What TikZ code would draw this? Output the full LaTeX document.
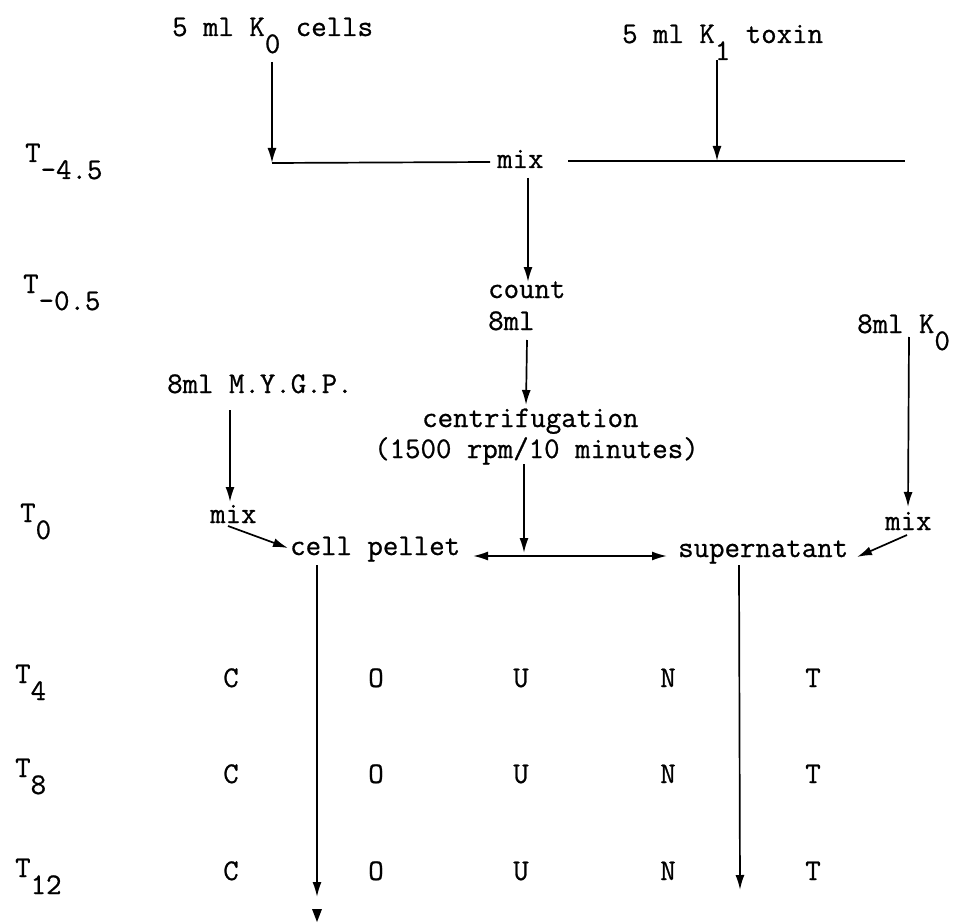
\documentclass[tikz,border=0pt]{standalone}
\usepackage{fontspec}
\newfontfamily\tw[FakeBold=0.8]{Latin Modern Mono}
\usetikzlibrary{arrows.meta}
\newcommand\lo[1]{\raisebox{-17pt}{#1}}
\begin{document}
\begin{tikzpicture}[x=1pt,y=-1pt,
  txt/.style={font=\fontsize{30}{34}\selectfont\tw, inner sep=0pt, anchor=base west},
  col/.style={txt, anchor=base},
  flow/.style={line width=1.7pt, -{Latex[length=15pt,width=9pt]}},
  twoway/.style={line width=1.7pt, {Latex[length=15pt,width=9pt]}-{Latex[length=15pt,width=9pt]}},
  plain/.style={line width=1.7pt}]
\useasboundingbox (0,0) rectangle (954,923);
% time labels
\node[txt] (tm45) at (25,162) {T\lo{-4.5}};
\node[txt] (tm05) at (23,293) {T\lo{-0.5}};
\node[txt] (t0) at (20,522) {T\lo{0}};
\node[txt] (t4) at (15,683) {T\lo{4}};
\node[txt] (t8) at (15,777) {T\lo{8}};
\node[txt] (t12) at (15,877) {T\lo{12}};
% top inputs
\node[txt] (k0) at (172,36) {5 ml K\lo{0} cells};
\node[txt] (k1) at (622,43) {5 ml K\lo{1} toxin};
\node[txt] (mixtop) at (497,168) {mix};
\node[txt] (count) at (488,298) {count};
\node[txt] (ml8) at (488,330) {8ml};
\node[txt] (mygp) at (167,393) {8ml M.Y.G.P.};
\node[txt] (k0r) at (857,333) {8ml K\lo{0}};
\node[txt] (centr) at (422,427) {centrifugation};
\node[txt] (rpm) at (374,458) {(1500 rpm/10 minutes)};
\node[txt] (mixl) at (210,523) {mix};
\node[txt] (mixr) at (885,530) {mix};
\node[txt] (pellet) at (290,555) {cell pellet};
\node[txt] (super) at (678,557) {supernatant};
% COUNT rows
\foreach \r/\y in {4/687,8/783,12/880}{
  \node[col] (c\r) at (231,\y) {C};
  \node[col] (o\r) at (376,\y) {O};
  \node[col] (u\r) at (521,\y) {U};
  \node[col] (n\r) at (668,\y) {N};
  \node[col] (tt\r) at (813,\y) {T};
}
% junction coordinates
\coordinate (a1s) at (272,62);   \coordinate (a1e) at (272,163);
\coordinate (ll) at (490,162);   \coordinate (rl1) at (568,161); \coordinate (rl2) at (905,161);
\coordinate (a2s) at (717,60);   \coordinate (a2e) at (717,161);
\coordinate (a3s) at (528,178);  \coordinate (a3e) at (528,282);
\coordinate (a4s) at (527,340);  \coordinate (a4e) at (526,405);
\coordinate (a5s) at (909,337);  \coordinate (a5e) at (908,507);
\coordinate (a6s) at (230,410);  \coordinate (a6e) at (230,502);
\coordinate (a7s) at (228,526);  \coordinate (a7e) at (288,548);
\coordinate (a8s) at (524,464);  \coordinate (a8e) at (524,553);
\coordinate (hl) at (473,556);   \coordinate (hr) at (667,556);
\coordinate (a9s) at (907,535);  \coordinate (a9e) at (857,557);
\coordinate (b1s) at (317,565);  \coordinate (b1e) at (317,897);
\coordinate (b2s) at (739,565);  \coordinate (b2e) at (740,890);
% connectors
\draw[flow] (a1s) -- (a1e);
\draw[plain] (a1e) -- (ll);
\draw[plain] (rl1) -- (rl2);
\draw[flow] (a2s) -- (a2e);
\draw[flow] (a3s) -- (a3e);
\draw[flow] (a4s) -- (a4e);
\draw[flow] (a5s) -- (a5e);
\draw[flow] (a6s) -- (a6e);
\draw[flow] (a7s) -- (a7e);
\draw[flow] (a8s) -- (a8e);
\draw[twoway] (hl) -- (hr);
\draw[flow] (a9s) -- (a9e);
\draw[flow] (b1s) -- (b1e);
\draw[flow] (b2s) -- (b2e);
\fill (312,909) -- (322,909) -- (317,922) -- cycle;
\end{tikzpicture}
\end{document}
